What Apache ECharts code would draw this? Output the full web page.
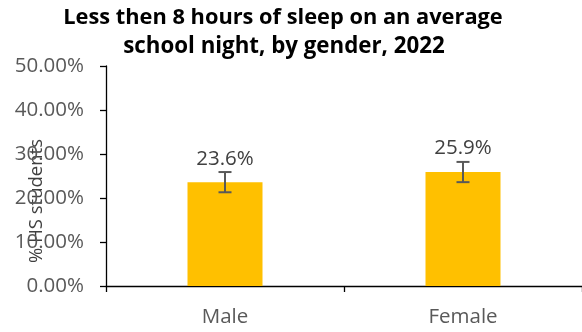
<!DOCTYPE html>
<html>
<head>
<meta charset="utf-8">
<script src="https://cdn.jsdelivr.net/npm/echarts@6/dist/echarts.min.js"></script>
<style>
  html, body { margin: 0; padding: 0; background: #fff; }
  #chart { width: 582px; height: 332px; }
</style>
</head>
<body>
<div id="chart"></div>
<script>
// Share of high-school students sleeping under 8 hours, by gender
const categories = ['Male', 'Female'];
const values = [23.6, 25.9];
const errLow = [21.3, 23.6];
const errHigh = [25.9, 28.2];
const yTicks = [0, 10, 20, 30, 40, 50];

const FONT = 'Open Sans';
const chart = echarts.init(document.getElementById('chart'), null, { renderer: 'canvas' });

const errorData = categories.map((c, i) => [i, errLow[i], errHigh[i]]);

chart.setOption({
  animation: false,
  grid: { left: 106, top: 66, width: 478, height: 220, containLabel: false },
  graphic: [
    {
      type: 'text', x: 283, y: 18,
      style: { text: 'Less then 8 hours of sleep on an average', font: 'bold 21.8px "Open Sans"', fill: '#000', align: 'center', verticalAlign: 'middle' }
    },
    {
      type: 'text', x: 284, y: 47,
      style: { text: 'school night, by gender, 2022', font: 'bold 22.3px "Open Sans"', fill: '#000', align: 'center', verticalAlign: 'middle' }
    },
    {
      type: 'text', x: 37, y: 201, rotation: Math.PI / 2,
      style: { text: '% HS students', font: '18.5px "Open Sans"', fill: '#404040', align: 'center', verticalAlign: 'middle' }
    }
  ],
  xAxis: {
    type: 'category',
    data: categories,
    axisLine: { lineStyle: { color: '#000', width: 1.3 } },
    axisTick: { show: true, length: 6, lineStyle: { color: '#000', width: 1.3 } },
    axisLabel: { color: '#595959', fontFamily: FONT, fontSize: 20.5, margin: 21 }
  },
  yAxis: {
    type: 'value',
    min: yTicks[0],
    max: yTicks[yTicks.length - 1],
    interval: 10,
    axisLine: { show: true, lineStyle: { color: '#000', width: 1.3 } },
    axisTick: { show: true, length: 6, lineStyle: { color: '#000', width: 1.3 } },
    splitLine: { show: false },
    axisLabel: {
      color: '#595959', fontFamily: FONT, fontSize: 20.5, margin: 22,
      formatter: v => v.toFixed(2) + '%'
    }
  },
  series: [
    {
      type: 'bar',
      data: values,
      barWidth: 75,
      itemStyle: { color: '#FFC000' },
      label: {
        show: true, position: 'top', distance: 13,
        color: '#404040', fontFamily: FONT, fontSize: 20.5,
        formatter: p => p.value.toFixed(1) + '%'
      },
      z: 2
    },
    {
      type: 'custom',
      data: errorData,
      z: 5,
      renderItem: (params, api) => {
        const i = api.value(0);
        const lo = api.coord([i, api.value(1)]);
        const hi = api.coord([i, api.value(2)]);
        const cap = 6.5;
        const style = { stroke: '#595959', lineWidth: 2 };
        return {
          type: 'group',
          children: [
            { type: 'line', shape: { x1: hi[0], y1: hi[1], x2: lo[0], y2: lo[1] }, style },
            { type: 'line', shape: { x1: hi[0] - cap, y1: hi[1], x2: hi[0] + cap, y2: hi[1] }, style },
            { type: 'line', shape: { x1: lo[0] - cap, y1: lo[1], x2: lo[0] + cap, y2: lo[1] }, style }
          ]
        };
      }
    }
  ]
});
</script>
</body>
</html>
